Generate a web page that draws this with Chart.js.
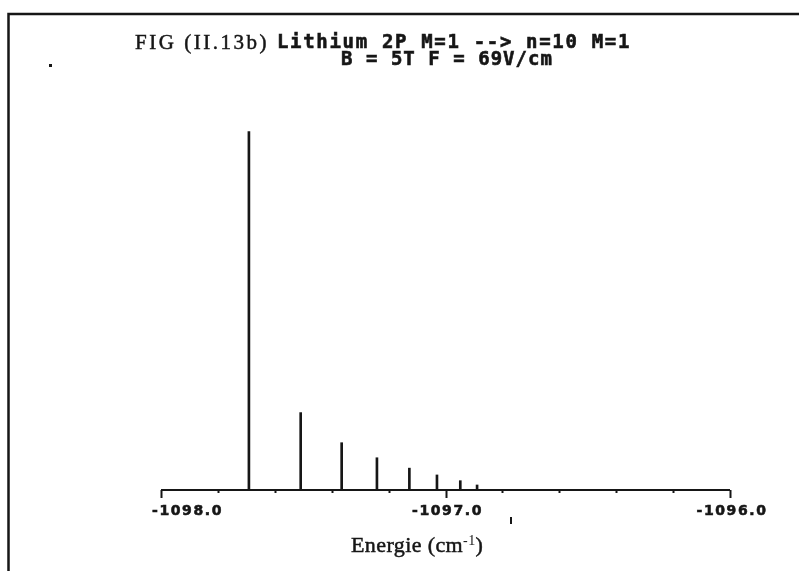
<!DOCTYPE html>
<html>
<head>
<meta charset="utf-8">
<script src="https://cdn.jsdelivr.net/npm/chart.js@4/dist/chart.umd.min.js"></script>
<style>
  html, body { margin: 0; padding: 0; background: #fff; }
  canvas { display: block; }
</style>
</head>
<body>
<canvas id="chart" width="799" height="571"></canvas>
<script>
// line positions (cm-1) and relative intensities
const energies = [-1097.691, -1097.509, -1097.365, -1097.241, -1097.127, -1097.030, -1096.948, -1096.889];
const intensities = [1.0, 0.216, 0.132, 0.090, 0.061, 0.042, 0.026, 0.014];

// axis ticks
const tickValues = [-1098.0, -1097.8, -1097.6, -1097.4, -1097.2, -1097.0, -1096.8, -1096.6, -1096.4, -1096.2, -1096.0];
const labelValues = [-1098.0, -1097.0, -1096.0];
const tickLabels = ['-1098.0', '-1097.0', '-1096.0'];

// texts
const titleFig = 'FIG (II.13b)';
const titleMain = 'Lithium 2P M=1 --> n=10 M=1';
const titleSub = 'B = 5T F = 69V/cm';
const axisTitle = ['Energie (cm', '-1', ')'];

const INK = '#161616';

// draws text starting at x, spread to the given width
function spreadText(ctx, text, x, y, width, heavy) {
    ctx.letterSpacing = '0px';
    const w = ctx.measureText(text).width;
    const ls = Math.max(0, (width - w) / text.length);
    ctx.letterSpacing = ls + 'px';
    ctx.textAlign = 'left';
    ctx.fillText(text, x, y);
    if (heavy) ctx.strokeText(text, x, y);
    ctx.letterSpacing = '0px';
}

const scanPlugin = {
    id: 'scan',
    beforeDraw(chart) {
        const ctx = chart.ctx;
        ctx.save();
        ctx.fillStyle = '#fff';
        ctx.fillRect(0, 0, chart.width, chart.height);
        ctx.restore();
    },
    afterDraw(chart) {
        const ctx = chart.ctx;
        const xs = chart.scales.x;
        const area = chart.chartArea;
        ctx.save();
        ctx.strokeStyle = INK;
        ctx.fillStyle = INK;

        // frame (left and top edges only)
        ctx.lineWidth = 2.5;
        ctx.beginPath();
        ctx.moveTo(8.5, 571);
        ctx.lineTo(8.5, 14);
        ctx.lineTo(799, 14);
        ctx.stroke();

        // x axis line
        const y0 = area.bottom;
        ctx.lineWidth = 2;
        ctx.beginPath();
        ctx.moveTo(xs.getPixelForValue(tickValues[0]), y0);
        ctx.lineTo(xs.getPixelForValue(tickValues[tickValues.length - 1]), y0);
        ctx.stroke();

        // ticks pointing down
        tickValues.forEach(v => {
            const px = Math.round(xs.getPixelForValue(v)) + 0.5;
            const major = labelValues.includes(v);
            ctx.lineWidth = 2;
            ctx.beginPath();
            ctx.moveTo(px, y0);
            ctx.lineTo(px, y0 + (major ? 8 : 3));
            ctx.stroke();
        });

        // tick labels
        ctx.font = 'bold 14px "DejaVu Sans"';
        ctx.letterSpacing = '1.6px';
        ctx.lineWidth = 0.6;
        ctx.textBaseline = 'alphabetic';
        ctx.textAlign = 'left';
        labelValues.forEach((v, i) => {
            const px = xs.getPixelForValue(v);
            const w = ctx.measureText(tickLabels[i]).width;
            const left = i === 0 ? px - 9 : px - w / 2 + 2;
            ctx.fillText(tickLabels[i], left, 515);
            ctx.strokeText(tickLabels[i], left, 515);
        });
        ctx.letterSpacing = '0px';

        // title
        ctx.lineWidth = 0.5;
        ctx.font = '21px "Liberation Serif"';
        spreadText(ctx, titleFig, 135, 49, 134, true);
        ctx.lineWidth = 0.6;
        ctx.font = 'bold 19px "DejaVu Sans Mono"';
        spreadText(ctx, titleMain, 277, 48, 354, true);
        spreadText(ctx, titleSub, 341, 65, 212, true);

        // axis title with superscript
        ctx.lineWidth = 0.5;
        ctx.font = '22px "Liberation Serif"';
        ctx.letterSpacing = '0.4px';
        let x = 351;
        ctx.fillText(axisTitle[0], x, 552);
        ctx.strokeText(axisTitle[0], x, 552);
        x += ctx.measureText(axisTitle[0]).width;
        ctx.font = '14px "Liberation Serif"';
        ctx.fillText(axisTitle[1], x, 545);
        x += ctx.measureText(axisTitle[1]).width;
        ctx.font = '22px "Liberation Serif"';
        ctx.fillText(axisTitle[2], x, 552);
        ctx.strokeText(axisTitle[2], x, 552);
        ctx.letterSpacing = '0px';

        // specks from the scan
        ctx.fillRect(49, 64, 3, 3);
        ctx.fillRect(510, 517, 2, 7);

        ctx.restore();
    }
};

new Chart(document.getElementById('chart'), {
    type: 'bar',
    data: {
        datasets: [{
            data: energies.map((e, i) => ({ x: e, y: intensities[i] })),
            backgroundColor: INK,
            borderWidth: 0,
            barThickness: 2
        }]
    },
    options: {
        responsive: false,
        animation: false,
        events: [],
        layout: { padding: { left: 161, right: 69, top: 60, bottom: 81 } },
        plugins: {
            legend: { display: false },
            tooltip: { enabled: false },
            title: { display: false }
        },
        scales: {
            x: { type: 'linear', min: -1098, max: -1096, offset: false, display: false },
            y: { type: 'linear', min: 0, max: 1.2, display: false }
        }
    },
    plugins: [scanPlugin]
});
</script>
</body>
</html>
